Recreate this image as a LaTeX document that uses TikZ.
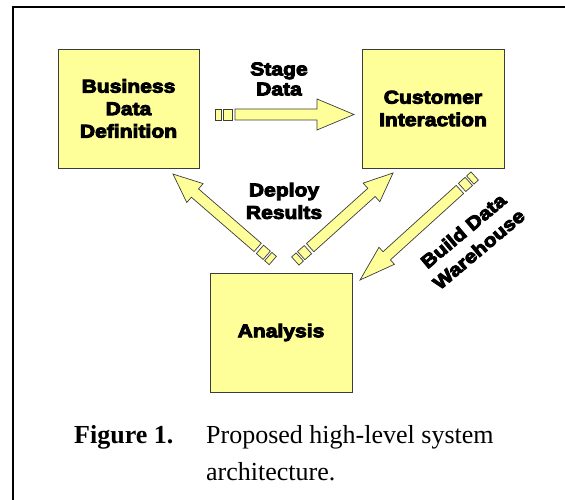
\documentclass[tikz,border=0pt]{standalone}
\usepackage{fontspec}
\setmainfont{Liberation Serif}
\newfontfamily\heavy{Liberation Sans}[BoldFeatures={FakeBold=5,FakeStretch=1.14}]
\usetikzlibrary{shadows}
\definecolor{boxyellow}{HTML}{FFFF99}
\definecolor{edgegray}{HTML}{3C3C3C}
\newcommand\lbl{\heavy\bfseries\fontsize{18.5}{22.5}\selectfont}
\begin{document}
\begin{tikzpicture}[x=1pt,y=-1pt,
  box/.style={draw=edgegray, line width=0.8pt, fill=boxyellow, minimum width=141pt, minimum height=119pt, inner sep=0pt, align=center, font=\lbl, drop shadow={shadow xshift=1.2pt, shadow yshift=-1.2pt, fill=black!55, opacity=1}},
  lab/.style={inner sep=0pt, align=center, font=\lbl},
  arr/.style={fill=boxyellow, draw=edgegray, line width=0.7pt, line join=miter},
  capt/.style={inner sep=0pt, anchor=base west, font=\fontsize{26}{37}\selectfont},
  pics/striparrow/.style args={#1/#2/#3}{code={
    \draw[arr] (0,-5.5) rectangle (6,5.5);
    \draw[arr] (8,-5.5) rectangle (17,5.5);
    \draw[arr] (20,-5.5) -- ({#1-#3},-5.5) -- ({#1-#3},-#2) -- (#1,0) -- ({#1-#3},#2) -- ({#1-#3},5.5) -- (20,5.5) -- cycle;
  }}
]
\useasboundingbox (0,0) rectangle (565,500);
\draw[line width=2pt] (13,500) -- (13,7) -- (565,7);

\node[box] (biz) at (128.5,108.5) {Business\\Data\\Definition};
\node[box, minimum width=142pt] (cust) at (433,108.5) {Customer\\Interaction};
\node[box, minimum width=142pt] (ana) at (281,332.5) {Analysis};

\node[lab, font=\heavy\bfseries\fontsize{18.5}{20}\selectfont] (stage) at (279,79) {Stage\\Data};
\node[lab] (deploy) at (284,201) {Deploy\\Results};
\node[lab, rotate=40, font=\heavy\bfseries\fontsize{18.5}{24}\selectfont] (build) at (471,240) {Build Data\\Warehouse};

\coordinate (stageTail) at (215,114.5);
\coordinate (deployLTail) at (272.8,260.5);
\coordinate (deployRTail) at (295.3,261);
\coordinate (buildTail) at (474.7,176);

\pic at (stageTail) {striparrow=139/15.5/37};
\pic[rotate=139.1] at (deployLTail) {striparrow=132/12.5/29};
\pic[rotate=42] at (deployRTail) {striparrow=131.5/12.5/29};
\pic[rotate=222.2] at (buildTail) {striparrow=154.8/11.5/36};

\node[capt, font=\bfseries\fontsize{26}{37}\selectfont] (fig) at (74,443) {Figure 1.};
\node[capt] (cap1) at (206,443) {Proposed high-level system};
\node[capt] (cap2) at (206,480) {architecture.};
\end{tikzpicture}
\end{document}
